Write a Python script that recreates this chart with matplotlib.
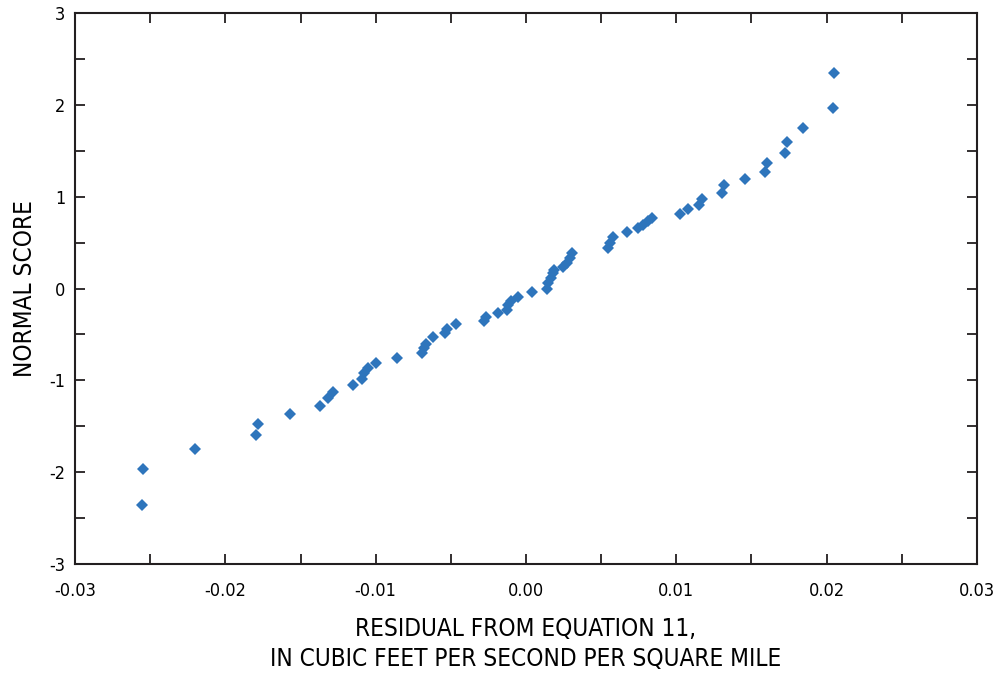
import numpy as np
import matplotlib
matplotlib.use("Agg")
import matplotlib.pyplot as plt
from matplotlib.ticker import MultipleLocator, FormatStrFormatter

plt.rcParams['font.family'] = ['DejaVu Sans']
plt.rcParams['font.stretch'] = 'condensed'
plt.rcParams['axes.unicode_minus'] = False

# residuals
residual = [-0.02554, -0.02548, -0.02202, -0.01796, -0.01783, -0.0157, -0.0137,
            -0.01317, -0.01284, -0.01151, -0.01091, -0.01078, -0.01051, -0.00998,
            -0.00858, -0.00692, -0.00678, -0.00665, -0.00619, -0.00539, -0.00525,
            -0.00466, -0.00279, -0.00266, -0.00186, -0.00126, -0.0012, -0.001,
            -0.00053, 0.0004, 0.0014, 0.00146, 0.00166, 0.0018, 0.00186, 0.00246,
            0.00273, 0.00293, 0.00306, 0.00546, 0.00559, 0.00579, 0.00672, 0.00745,
            0.00778, 0.00812, 0.00838, 0.01024, 0.01078, 0.01151, 0.01171, 0.01304,
            0.01317, 0.01457, 0.0159, 0.01603, 0.01723, 0.01736, 0.01843, 0.02042,
            0.02048]
normal_score = [-2.358, -1.966, -1.748, -1.596, -1.476, -1.367, -1.280, -1.193,
                -1.127, -1.051, -0.986, -0.920, -0.866, -0.812, -0.757, -0.703,
                -0.648, -0.605, -0.528, -0.485, -0.441, -0.387, -0.354, -0.310,
                -0.267, -0.234, -0.180, -0.136, -0.093, -0.038, 0.0, 0.060, 0.114,
                0.169, 0.202, 0.234, 0.278, 0.332, 0.387, 0.441, 0.496, 0.561,
                0.615, 0.659, 0.692, 0.735, 0.768, 0.812, 0.866, 0.910, 0.975,
                1.041, 1.128, 1.193, 1.269, 1.367, 1.476, 1.596, 1.748, 1.966, 2.347]

fig = plt.figure(figsize=(10.02, 6.74), dpi=100)
ax = fig.add_axes([0.0749, 0.1632, 0.9001, 0.8175])

ax.plot(residual, normal_score, 'D', color='#2e75bc', markersize=6.2,
        markeredgewidth=0, linestyle='none')

ax.set_xlim(-0.03, 0.03)
ax.set_ylim(-3, 3)
ax.xaxis.set_major_locator(MultipleLocator(0.01))
ax.xaxis.set_minor_locator(MultipleLocator(0.005))
ax.yaxis.set_major_locator(MultipleLocator(1))
ax.yaxis.set_minor_locator(MultipleLocator(0.5))
ax.xaxis.set_major_formatter(FormatStrFormatter('%.2f'))
ax.yaxis.set_major_formatter(FormatStrFormatter('%d'))

for s in ax.spines.values():
    s.set_linewidth(1.5)
    s.set_color('#231f20')
ax.tick_params(which='both', direction='in', top=True, right=True,
               width=1.3, length=7, color='#231f20', labelsize=13, pad=7)
ax.tick_params(axis='x', which='both', pad=13)

ax.set_xlabel('RESIDUAL FROM EQUATION 11,\nIN CUBIC FEET PER SECOND PER SQUARE MILE',
              fontsize=17.5, labelpad=12, linespacing=1.35)
ax.set_ylabel('NORMAL SCORE', fontsize=17.5, labelpad=9)

fig.savefig('out.png', dpi=100)
